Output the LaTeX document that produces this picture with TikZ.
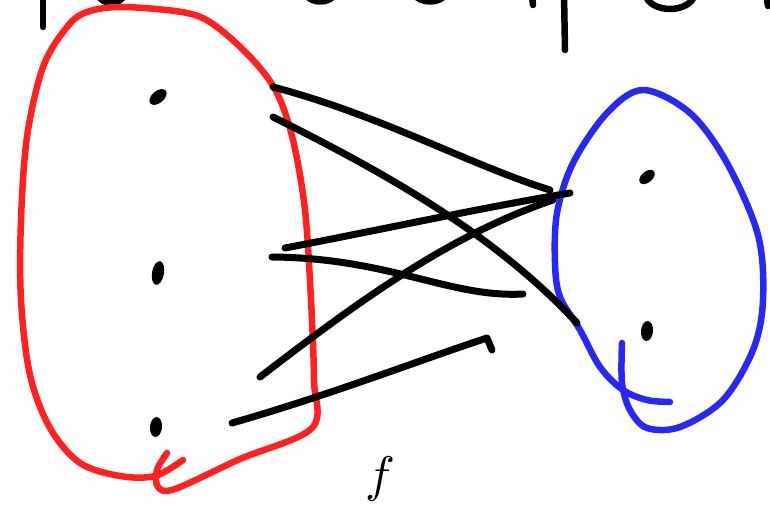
\documentclass[tikz,border=0pt]{standalone}
\usepackage{tikz}
\usetikzlibrary{shapes.geometric}
\definecolor{Set_Red}{HTML}{FF2020}
\definecolor{Set_Blue}{HTML}{2828F5}
\tikzset{
  pen/.style={line width=6.5pt, line cap=round, line join=round},
  mapline/.style={pen, line width=7pt, black},
  dot/.style={ellipse, fill=black, inner sep=0pt},
}

\begin{document}
\begin{tikzpicture}[x=1pt, y=-1pt]
\useasboundingbox (0,0) rectangle (770,505);
\clip (0,0) rectangle (770,505);
% Cut-off handwriting along the top edge
\draw[pen] (43,-5) -- (43,27);
\draw[pen] (564,-5) -- (565,50);
\draw[pen] (532,-4) -- (533,5);
\draw[pen] (98,-6) .. controls (102,6) and (120,6) .. (125,-6);
\draw[pen] (306,-6) .. controls (310,4) and (330,4) .. (335,-6);
\draw[pen] (414,-6) .. controls (420,4) and (440,4) .. (446,-6);
\draw[pen] (645,-6) .. controls (650,14) and (690,14) .. (695,-6);
\draw[pen] (766,-6) -- (768,6);
% Domain (red)
\draw[pen, Set_Red] plot[smooth, tension=0.55] coordinates {
  (167,453) (157,470) (158,487) (175,489) (240,459) (312,428) (314,380)
  (311,300) (305,210) (293,140) (277,93) (253,60) (217,27) (187,13)
  (123,7) (87,12) (67,27) (43,67) (27,137) (21,220) (21,300) (30,375)
  (50,428) (80,463) (120,476) (155,476) (183,460)};
% Codomain (blue)
\draw[pen, Set_Blue] plot[smooth, tension=0.55] coordinates {
  (622,343) (622,383) (630,410) (647,428) (680,427) (723,400) (753,350)
  (763,300) (758,235) (727,163) (690,113) (643,90) (607,113) (573,163)
  (557,213) (555,263) (560,297) (580,330) (600,367) (623,390) (647,400)
  (670,402)};
% Points
\node[dot, minimum width=12pt, minimum height=20pt, rotate=-50] (a1) at (158,97) {};
\node[dot, minimum width=12pt, minimum height=24pt, rotate=-10] (a2) at (158,273) {};
\node[dot, minimum width=12pt, minimum height=20pt, rotate=-5] (a3) at (156,427) {};
\node[dot, minimum width=11pt, minimum height=18pt, rotate=-50] (b1) at (647,177) {};
\node[dot, minimum width=12pt, minimum height=20pt, rotate=-5] (b2) at (647,331) {};
% Line ends
\coordinate (s1) at (273,87);   \coordinate (e1) at (550,190);
\coordinate (s2) at (273,117);  \coordinate (e2) at (577,323);
\coordinate (s3) at (285,248);  \coordinate (e3) at (570,193);
\coordinate (s4) at (272,257);  \coordinate (e4) at (523,294);
\coordinate (s5) at (260,377);  \coordinate (e5) at (553,200);
\coordinate (s6) at (232,423);  \coordinate (e6) at (487,338);
\coordinate (h6) at (492,350);
% Mapping strokes
\draw[mapline] (s1) .. controls (380,115) and (470,165) .. (e1);
\draw[mapline] (s2) .. controls (400,180) and (500,240) .. (e2);
\draw[mapline] (s3) .. controls (380,230) and (480,208) .. (e3);
\draw[mapline] (s4) .. controls (390,258) and (450,298) .. (e4);
\draw[mapline] (s5) .. controls (360,300) and (450,235) .. (e5);
\draw[mapline] (s6) .. controls (330,395) and (420,360) .. (e6) -- (h6);
% Label
\node[anchor=base, scale=5] (flabel) at (380,491) {$f$};
\end{tikzpicture}
\end{document}
